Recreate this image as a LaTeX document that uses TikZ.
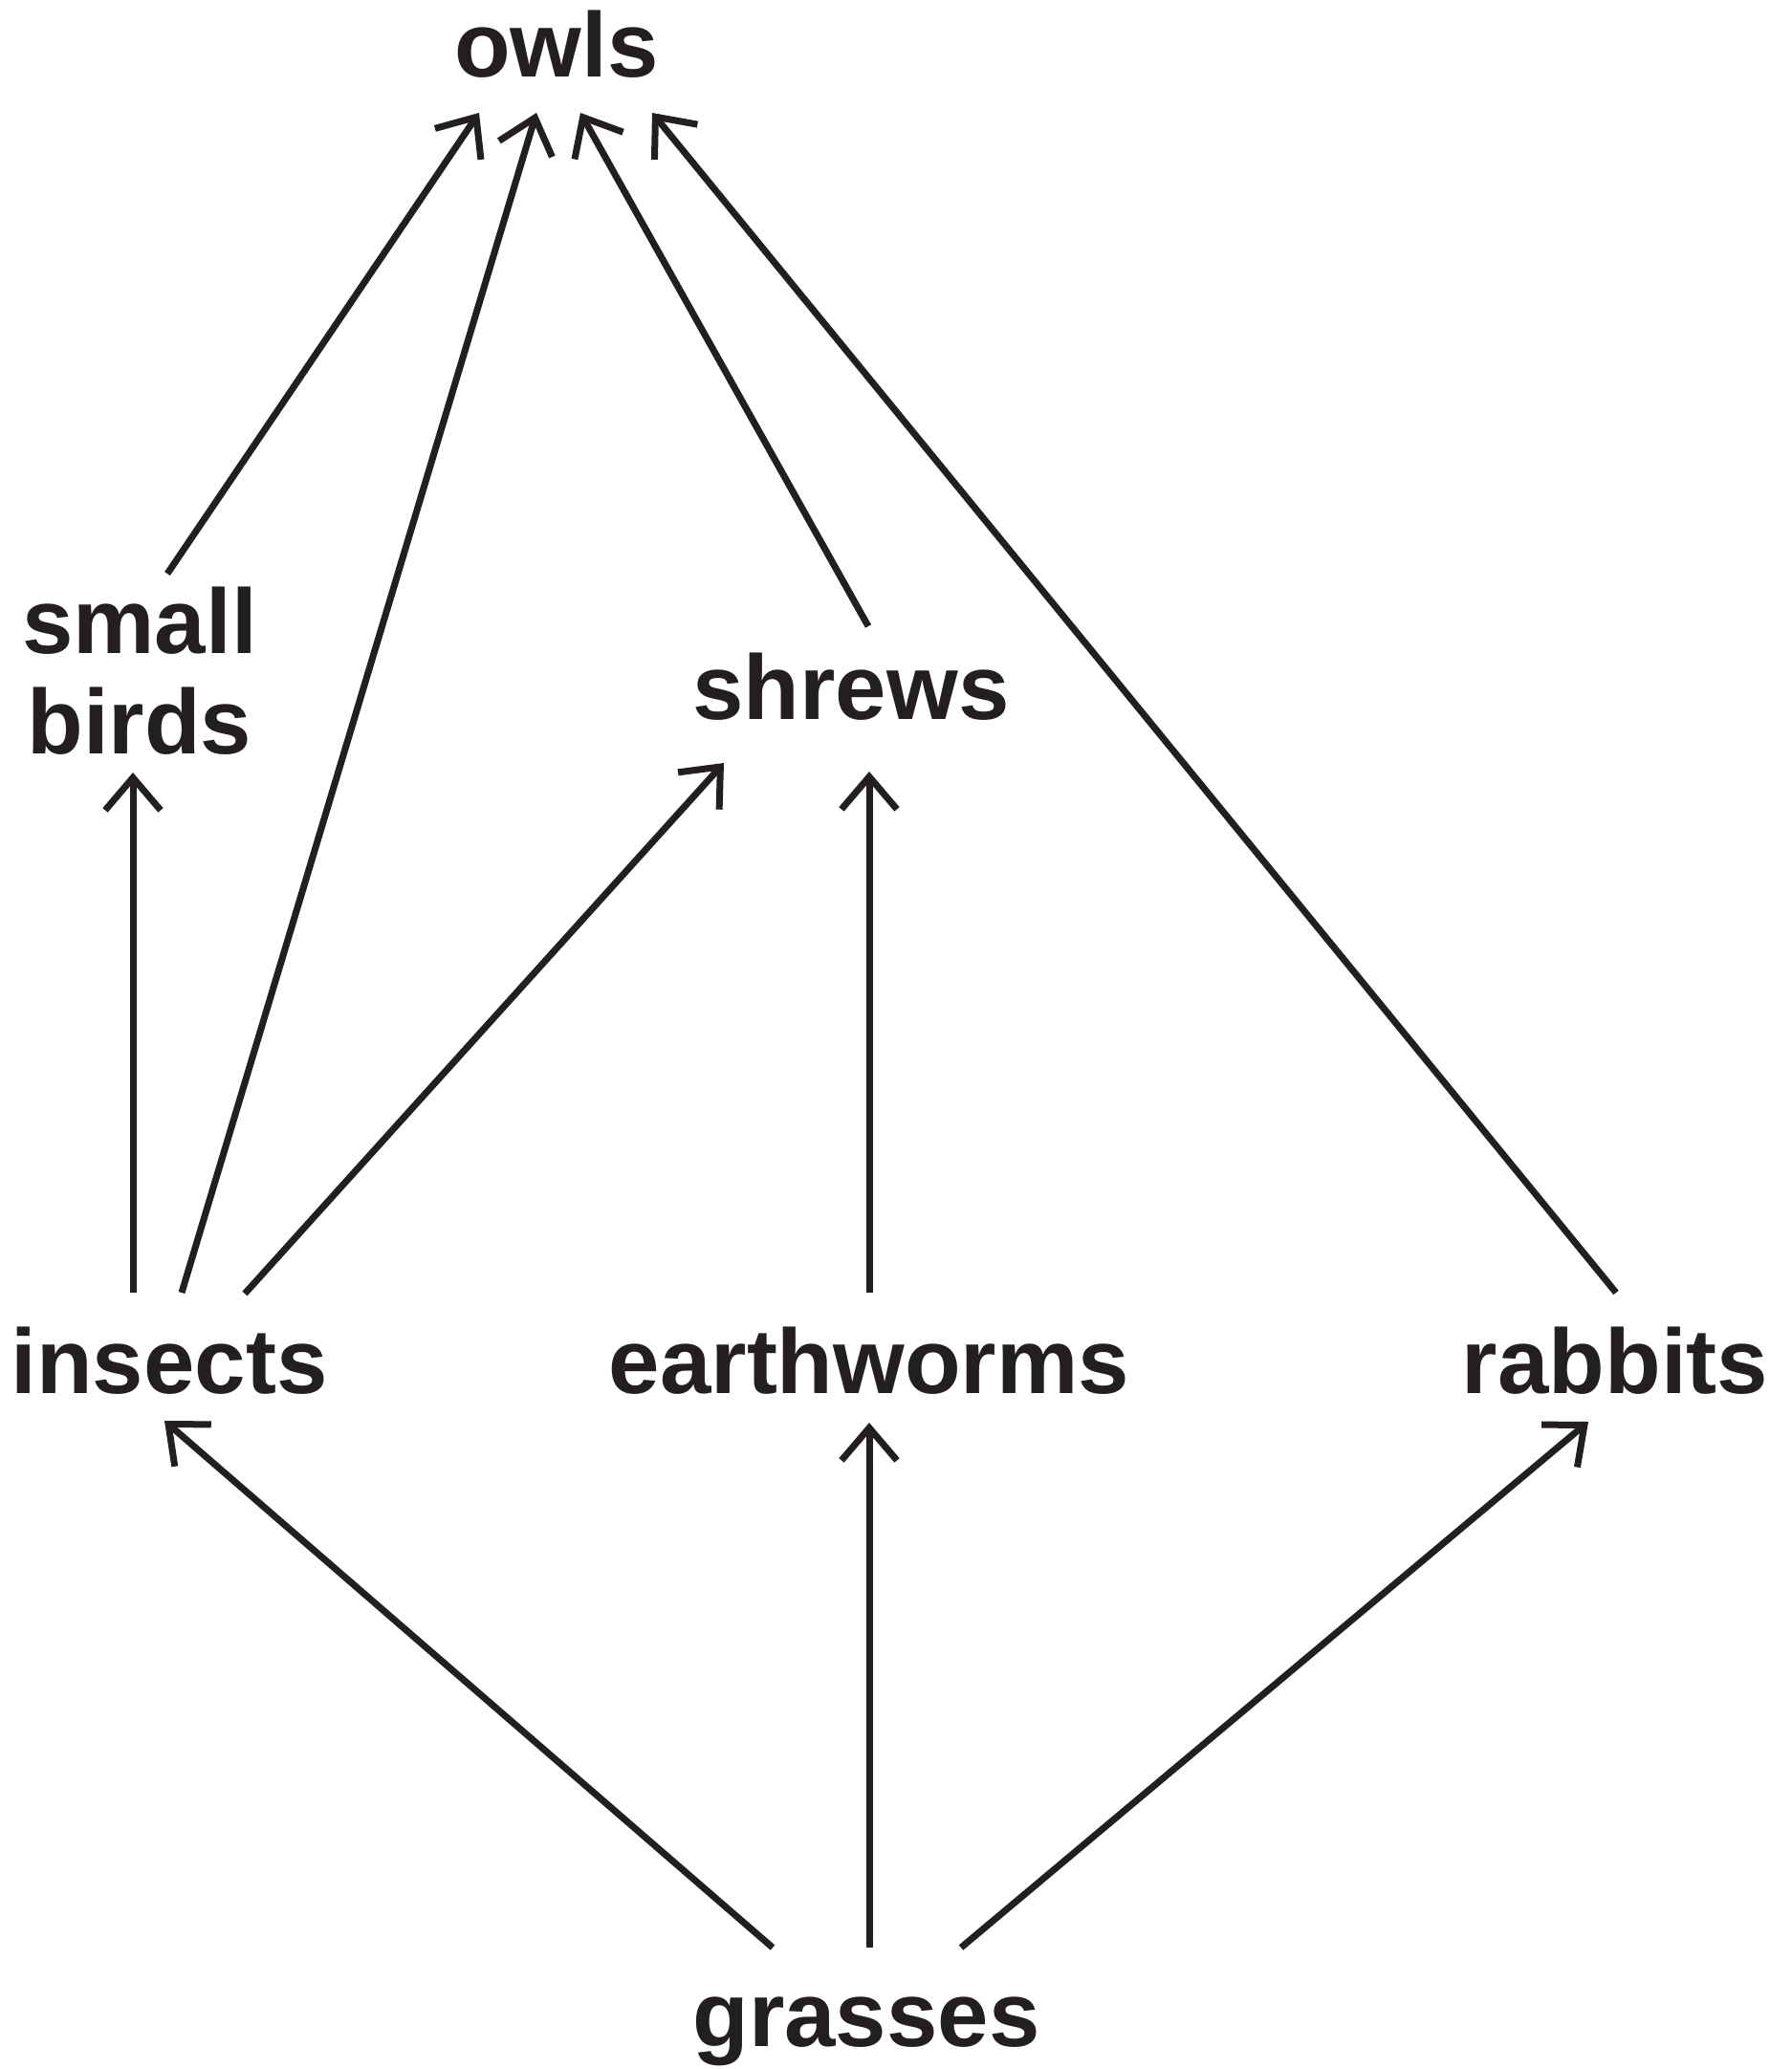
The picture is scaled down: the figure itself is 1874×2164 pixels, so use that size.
\documentclass[tikz,border=0pt]{standalone}
\usepackage{fontspec}
\setmainfont{Liberation Sans}
\usetikzlibrary{arrows.meta,calc}
\definecolor{ink}{HTML}{231F20}
\begin{document}
\begin{tikzpicture}[x=0.5pt,y=-0.5pt,
  lbl/.style={inner sep=0pt,anchor=base,font=\fontsize{48}{52.5}\selectfont\bfseries,text=ink,align=center},
  arr/.style={draw=ink,line width=3.5pt,-{Straight Barb[length=17pt,width=29pt,line join=miter]}}]
\useasboundingbox[fill=white] (0,0) rectangle (1874,2164);
\node[lbl] (owls) at (582,80) {owls};
\node[lbl] (smallbirds) at (146,788) {small\\birds};
\node[lbl] (shrews) at (890,752) {shrews};
\node[lbl] (insects) at (177,1457) {insects};
\node[lbl] (earthworms) at (909,1457) {earthworms};
\node[lbl] (rabbits) at (1689,1457) {rabbits};
\node[lbl] (grasses) at (906,2140) {grasses};
% to owls
\draw[arr] ($(smallbirds.base)+(29,-188)$) -- ($(owls.base)+(-81,38)$);
\draw[arr] ($(insects.base)+(13,-105)$) -- ($(owls.base)+(-21,38)$);
\draw[arr] ($(shrews.base)+(18,-97)$) -- ($(owls.base)+(25,38)$);
\draw[arr] ($(rabbits.base)+(1,-105)$) -- ($(owls.base)+(100,38)$);
% to small birds and shrews
\draw[arr] ($(insects.base)+(-38,-105)$) -- ($(smallbirds.base)+(-7,20)$);
\draw[arr] ($(insects.base)+(79,-104)$) -- ($(shrews.base)+(-133,46)$);
\draw[arr] ($(earthworms.base)+(0,-105)$) -- ($(shrews.base)+(19,55)$);
% from grasses
\draw[arr] ($(grasses.base)+(-98,-103)$) -- ($(insects.base)+(-5,29)$);
\draw[arr] ($(grasses.base)+(3,-103)$) -- ($(earthworms.base)+(0,31)$);
\draw[arr] ($(grasses.base)+(99,-103)$) -- ($(rabbits.base)+(-28,30)$);
\end{tikzpicture}
\end{document}
